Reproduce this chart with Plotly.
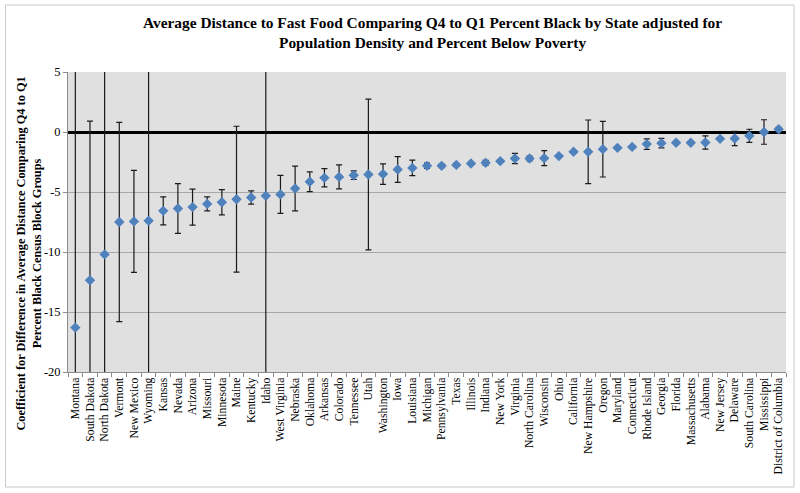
import plotly.graph_objects as go

states = ["Montana", "South Dakota", "North Dakota", "Vermont", "New Mexico", "Wyoming",
          "Kansas", "Nevada", "Arizona", "Missouri", "Minnesota", "Maine", "Kentucky",
          "Idaho", "West Virginia", "Nebraska", "Oklahoma", "Arkansas", "Colorado",
          "Tennessee", "Utah", "Washington", "Iowa", "Louisiana", "Michigan",
          "Pennsylvania", "Texas", "Illinois", "Indiana", "New York", "Virginia",
          "North Carolina", "Wisconsin", "Ohio", "California", "New Hampshire", "Oregon",
          "Maryland", "Connecticut", "Rhode Island", "Georgia", "Florida", "Massachusetts",
          "Alabama", "New Jersey", "Delaware", "South Carolina", "Mississippi",
          "District of Columbia"]

coef = [-16.3, -12.35, -10.2, -7.5, -7.45, -7.4,
        -6.57, -6.37, -6.26, -5.99, -5.85, -5.6, -5.46,
        -5.32, -5.2, -4.71, -4.15, -3.82, -3.74,
        -3.6, -3.54, -3.51, -3.13, -2.99, -2.82,
        -2.82, -2.74, -2.63, -2.57, -2.43, -2.21,
        -2.21, -2.18, -2.01, -1.65, -1.65, -1.43,
        -1.32, -1.24, -1.01, -0.93, -0.9, -0.9,
        -0.875, -0.57, -0.54, -0.32, 0.0,
        0.23]

err = [25.0, 13.25, 20.0, 8.3, 4.25, 16.0,
       1.17, 2.07, 1.5, 0.58, 1.05, 6.08, 0.55,
       20.0, 1.58, 1.86, 0.82, 0.76, 1.0,
       0.36, 6.28, 0.86, 1.07, 0.64, 0.22,
       0.15, 0.12, 0.1, 0.2, 0.1, 0.43,
       0.2, 0.62, 0.1, 0.1, 2.65, 2.32,
       0.1, 0.1, 0.43, 0.4, 0.12, 0.12,
       0.56, 0.1, 0.6, 0.55, 1.02,
       0.15]

y_ticks = [5, 0, -5, -10, -15, -20]

serif = "Liberation Serif"

fig = go.Figure()
fig.add_trace(go.Scatter(
    x=states, y=coef, mode="markers",
    marker=dict(symbol="diamond", size=8, color="#4F81BD", line=dict(width=0)),
    error_y=dict(type="data", array=err, visible=True, color="#1a1a1a",
                 thickness=1.2, width=3),
    showlegend=False,
))

L, R, T, B = 67.5, 786, 72, 372
W, H = R - L, B - T

def px(xp):
    return (xp - L) / W

def py(yp):
    return (B - yp) / H

fig.update_layout(
    width=800, height=493,
    margin=dict(l=L, r=800 - R, t=T, b=493 - B, pad=0, autoexpand=False),
    paper_bgcolor="white",
    plot_bgcolor="#E0E0E0",
    font=dict(family=serif, size=12, color="black"),
    xaxis=dict(
        type="category", range=[-0.5, len(states) - 0.5], automargin=False,
        tickangle=-90, tickfont=dict(family=serif, size=11.7),
        ticks="outside", ticklen=4, tickcolor="#8c8c8c", tickson="boundaries",
        showgrid=False, showline=True, linecolor="#8c8c8c", linewidth=1,
        zeroline=False,
    ),
    yaxis=dict(
        range=[-20, 5], tickvals=y_ticks, ticktext=[str(v) for v in y_ticks],
        automargin=False,
        tickfont=dict(family=serif, size=12.4),
        ticks="outside", ticklen=4, tickcolor="#8c8c8c",
        showgrid=True, gridcolor="#A8A8A8", gridwidth=1,
        showline=True, linecolor="#8c8c8c", linewidth=1,
        zeroline=True, zerolinecolor="black", zerolinewidth=3,
    ),
    shapes=[dict(type="rect", xref="paper", yref="paper",
                 x0=px(5), x1=px(794), y0=py(487), y1=py(5),
                 line=dict(color="#C8C8C8", width=1), layer="below")],
    annotations=[
        dict(text="<b>Average Distance to Fast Food Comparing Q4 to Q1 Percent Black by State adjusted for<br>Population Density and Percent Below Poverty</b>",
             xref="paper", yref="paper", x=px(432), y=py(32),
             xanchor="center", yanchor="middle", showarrow=False,
             font=dict(family=serif, size=15.4, color="black")),
        dict(text="<b>Coefficient for Difference in Average Distance Comparing Q4 to Q1<br>Percent Black Census Block Groups</b>",
             xref="paper", yref="paper", x=px(28), y=py(254),
             xanchor="center", yanchor="middle", textangle=-90, showarrow=False,
             font=dict(family=serif, size=12.3, color="black")),
    ],
)

fig.write_html("out.html", config={"displayModeBar": False},
               post_script="document.body.style.margin='0';")
